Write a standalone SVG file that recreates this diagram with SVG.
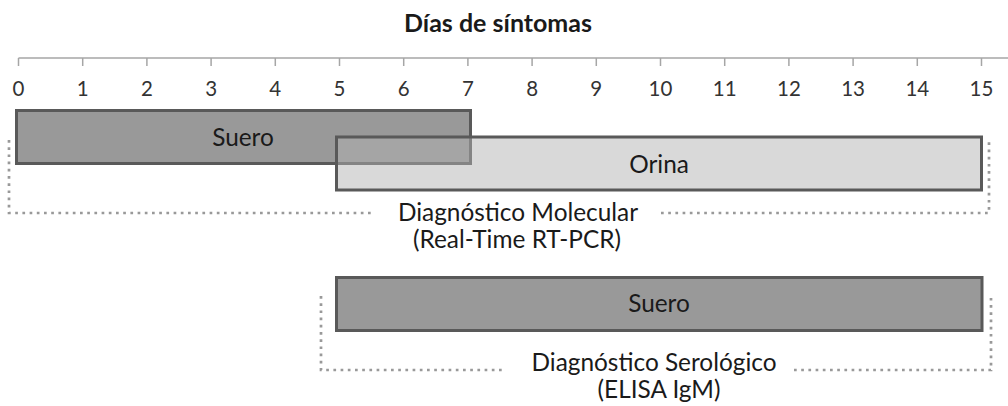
<svg xmlns="http://www.w3.org/2000/svg" width="1008" height="406" viewBox="0 0 1008 406">
<style>
text{font-family:Lato,"Liberation Sans",sans-serif;fill:#1a1a1a;text-anchor:middle}
.title{font-size:25px;font-weight:bold}
.tick{font-size:20.5px;fill:#333}
.lbl{font-size:24.4px}
.axis{stroke:#a6a6a6;stroke-width:1.5;fill:none}
.dark{fill:#999999;stroke:#595959;stroke-width:3}
.light{fill:#b1b1b1;fill-opacity:0.49;stroke:#595959;stroke-width:3}
.dots{fill:none;stroke:#999999;stroke-width:2.7;stroke-dasharray:2.7 4.5}
</style>
<rect width="1008" height="406" fill="#ffffff"/>
<text class="title" x="498" y="32">Días de síntomas</text>
<g id="axis">
<path class="axis" d="M18.5,58H1008M18.5,58v8M82.7,58v8M146.9,58v8M211.1,58v8M275.3,58v8M339.5,58v8M403.7,58v8M467.9,58v8M532.1,58v8M596.3,58v8M660.5,58v8M724.7,58v8M788.9,58v8M853.1,58v8M917.3,58v8M981.5,58v8"/>
<text class="tick" x="18.5" y="96">0</text>
<text class="tick" x="82.7" y="96">1</text>
<text class="tick" x="146.9" y="96">2</text>
<text class="tick" x="211.1" y="96">3</text>
<text class="tick" x="275.3" y="96">4</text>
<text class="tick" x="339.5" y="96">5</text>
<text class="tick" x="403.7" y="96">6</text>
<text class="tick" x="467.9" y="96">7</text>
<text class="tick" x="532.1" y="96">8</text>
<text class="tick" x="596.3" y="96">9</text>
<text class="tick" x="660.5" y="96">10</text>
<text class="tick" x="724.7" y="96">11</text>
<text class="tick" x="788.9" y="96">12</text>
<text class="tick" x="853.1" y="96">13</text>
<text class="tick" x="917.3" y="96">14</text>
<text class="tick" x="981.5" y="96">15</text>
</g>
<g id="connectors">
<path class="dots" d="M9,140V213H374"/>
<path class="dots" d="M661,213H989V140"/>
<path class="dots" d="M321,296V370H504"/>
<path class="dots" d="M794,370H991V296"/>
</g>
<g id="suero-molecular">
<rect class="dark" x="16.5" y="110.5" width="454" height="53"/>
<text class="lbl" x="243" y="146">Suero</text>
</g>
<g id="orina">
<rect class="light" x="336.5" y="137" width="645" height="53"/>
<text class="lbl" x="659" y="173">Orina</text>
</g>
<g id="diag-molecular">
<text class="lbl" x="518" y="221">Diagnóstico Molecular</text>
<text class="lbl" x="517" y="248">(Real-Time RT-PCR)</text>
</g>
<g id="suero-serologico">
<rect class="dark" x="336.5" y="277.5" width="645.5" height="53"/>
<text class="lbl" x="659" y="312">Suero</text>
</g>
<g id="diag-serologico">
<text class="lbl" x="654" y="371">Diagnóstico Serológico</text>
<text class="lbl" x="659" y="398">(ELISA IgM)</text>
</g>
</svg>
